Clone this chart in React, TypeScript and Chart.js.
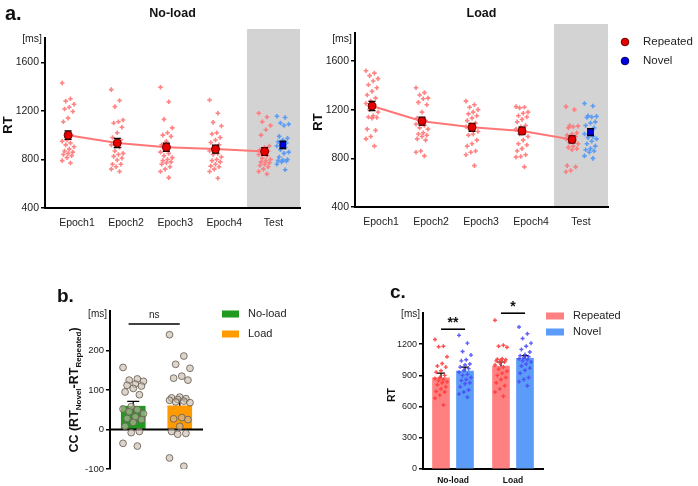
import React, { useEffect, useRef } from 'react';
import { Chart, registerables } from 'chart.js';

Chart.register(...registerables);

const FONT = "'Liberation Sans', Arial, Helvetica, sans-serif";

// ---------- a. RT across epochs ----------
const EPOCH_LABELS = ['Epoch1', 'Epoch2', 'Epoch3', 'Epoch4', 'Test'];
const EPOCH_TICK_POS = [0.18, 1.18, 2.18, 3.18, 4.18];
const RT_TICKS = [400, 800, 1200, 1600];
const NOVEL_X = 4.37;

const NOLOAD_REP_MEAN = [1000, 935, 900, 885, 865];
const NOLOAD_REP_SEM = [34, 38, 33, 32, 32];
const NOLOAD_NOV_MEAN = 920;
const NOLOAD_NOV_SEM = 30;

const NOLOAD_REP_E1 = [1430, 1300, 1280, 1255, 1230, 1215, 1195, 1140, 1110, 1000, 960, 950, 935, 920, 905, 885, 870, 860, 850, 840, 830, 815, 790, 770];
const NOLOAD_REP_E2 = [1375, 1285, 1235, 1125, 1110, 1100, 1065, 1020, 980, 960, 940, 920, 900, 870, 850, 840, 825, 810, 795, 760, 760, 740, 720, 700];
const NOLOAD_REP_E3 = [1395, 1275, 1130, 1060, 1020, 1000, 990, 950, 920, 900, 880, 860, 850, 830, 815, 800, 790, 780, 770, 760, 740, 720, 700, 650];
const NOLOAD_REP_E4 = [1290, 1180, 1105, 1075, 1020, 1010, 980, 960, 940, 920, 900, 870, 850, 840, 820, 800, 790, 780, 760, 745, 740, 720, 700, 645];
const NOLOAD_REP_TEST = [1180, 1150, 1110, 1080, 1045, 1000, 910, 900, 880, 870, 850, 840, 830, 810, 800, 790, 780, 770, 760, 750, 740, 720, 700, 680];
const NOLOAD_NOV_TEST = [1155, 1145, 1100, 1090, 1080, 990, 975, 960, 945, 935, 920, 910, 900, 880, 860, 850, 820, 800, 795, 790, 785, 780, 760, 715];

const LOAD_REP_MEAN = [1230, 1105, 1055, 1025, 955];
const LOAD_REP_SEM = [38, 32, 32, 30, 28];
const LOAD_NOV_MEAN = 1015;
const LOAD_NOV_SEM = 28;

const LOAD_REP_E1 = [1520, 1500, 1480, 1455, 1435, 1405, 1380, 1350, 1320, 1295, 1270, 1250, 1240, 1200, 1180, 1150, 1140, 1135, 1130, 1040, 1030, 980, 960, 900];
const LOAD_REP_E2 = [1380, 1340, 1320, 1295, 1290, 1260, 1240, 1180, 1130, 1110, 1100, 1080, 1070, 1050, 1040, 1010, 1000, 990, 980, 960, 950, 860, 850, 820];
const LOAD_REP_E3 = [1270, 1240, 1220, 1200, 1180, 1165, 1150, 1130, 1110, 1090, 1075, 1060, 1050, 1040, 1020, 1000, 990, 950, 920, 900, 860, 850, 830, 740];
const LOAD_REP_E4 = [1225, 1220, 1215, 1180, 1170, 1150, 1140, 1120, 1100, 1070, 1060, 1040, 1010, 1000, 980, 950, 920, 910, 880, 860, 830, 815, 810, 730];
const LOAD_REP_TEST = [1225, 1200, 1070, 1065, 1060, 1050, 1010, 1000, 990, 980, 970, 960, 940, 930, 920, 900, 890, 880, 870, 740, 730, 700, 690];
const LOAD_NOV_TEST = [1250, 1230, 1150, 1145, 1140, 1135, 1100, 1090, 1070, 1050, 1020, 1000, 980, 970, 960, 940, 920, 900, 880, 870, 860, 850, 820, 800];

// ---------- b. contextual cueing effect ----------
const CC_GROUPS = ['No-load', 'Load'];
const CC_MEAN = [59, 60];
const CC_SEM = [12, 16];
const CC_TICKS = [-100, 0, 100, 200];
const CC_BRACKET = 267;
const CC_NOLOAD = [157, 128, 125, 122, 115, 112, 110, 104, 95, 88, 58, 52, 50, 45, 40, 32, 28, 25, 18, 8, -5, -8, -35, -42];
const CC_LOAD = [240, 186, 165, 155, 135, 130, 125, 82, 80, 78, 76, 74, 72, 70, 68, 30, 27, 25, 8, -5, -10, -12, -72, -93];

// ---------- c. test-phase RT ----------
const TEST_GROUPS = ['No-load', 'Load'];
const TEST_REP_MEAN = [876, 989];
const TEST_NOV_MEAN = [941, 1063];
const TEST_REP_SEM = [45, 40];
const TEST_NOV_SEM = [38, 28];
const TEST_TICKS = [0, 300, 600, 900, 1200];
const TEST_BRACKETS = [1344, 1498];
const TEST_STARS = ['**', '*'];
const TEST_NOLOAD_REP = [1245, 1180, 1175, 1080, 1015, 990, 980, 945, 930, 900, 880, 870, 860, 850, 840, 830, 810, 790, 770, 745, 740, 710, 680, 615];
const TEST_NOLOAD_NOV = [1285, 1210, 1130, 1095, 1050, 1040, 1010, 1000, 980, 965, 950, 930, 910, 900, 880, 860, 850, 830, 820, 790, 760, 740, 720, 690];
const TEST_LOAD_REP = [1430, 1190, 1180, 1170, 1060, 1055, 1050, 1045, 1040, 1030, 1020, 1000, 980, 960, 940, 920, 900, 880, 860, 830, 800, 770, 740, 700];
const TEST_LOAD_NOV = [1365, 1300, 1255, 1210, 1180, 1150, 1125, 1100, 1090, 1080, 1070, 1060, 1050, 1040, 1030, 1010, 990, 970, 950, 920, 880, 860, 840, 800];

// spread subjects sideways so overlapping values stay visible
const jitter = (i: number, amp: number) => ((((i * 7) % 11) - 5) / 5) * amp;

function drawText(ctx: CanvasRenderingContext2D, s: string, x: number, y: number, size: number, o: { bold?: boolean; align?: CanvasTextAlign; baseline?: CanvasTextBaseline; color?: string } = {}) {
  ctx.save();
  ctx.font = `${o.bold ? 'bold ' : ''}${size}px ${FONT}`;
  ctx.fillStyle = o.color ?? '#111';
  ctx.textAlign = o.align ?? 'center';
  ctx.textBaseline = o.baseline ?? 'middle';
  ctx.fillText(s, x, y);
  ctx.restore();
}

function drawRotated(ctx: CanvasRenderingContext2D, s: string, x: number, y: number, size: number, bold = true) {
  ctx.save();
  ctx.translate(x, y);
  ctx.rotate(-Math.PI / 2);
  drawText(ctx, s, 0, 0, size, { bold });
  ctx.restore();
}

function errorBar(ctx: CanvasRenderingContext2D, x: number, yLo: number, yHi: number, cap: number, both: boolean, lw = 1.4) {
  ctx.save();
  ctx.strokeStyle = '#000';
  ctx.lineWidth = lw;
  ctx.beginPath();
  ctx.moveTo(x, yLo);
  ctx.lineTo(x, yHi);
  ctx.moveTo(x - cap / 2, yHi);
  ctx.lineTo(x + cap / 2, yHi);
  if (both) {
    ctx.moveTo(x - cap / 2, yLo);
    ctx.lineTo(x + cap / 2, yLo);
  }
  ctx.stroke();
  ctx.restore();
}

function hLine(ctx: CanvasRenderingContext2D, x1: number, x2: number, y: number, lw: number) {
  ctx.save();
  ctx.strokeStyle = '#000';
  ctx.lineWidth = lw;
  ctx.beginPath();
  ctx.moveTo(x1, y);
  ctx.lineTo(x2, y);
  ctx.stroke();
  ctx.restore();
}

function yAxis(min: number, max: number, ticks: number[], width: number, size: number) {
  return {
    type: 'linear',
    min,
    max,
    afterBuildTicks: (s: any) => { s.ticks = ticks.map((v) => ({ value: v })); },
    afterFit: (s: any) => { s.width = width; },
    border: { display: true, color: '#000', width: 2 },
    grid: { display: true, drawOnChartArea: false, drawTicks: true, tickLength: 4, color: '#000', lineWidth: 1.5 },
    ticks: { font: { family: FONT, size }, color: '#222', padding: 2, callback: (v: number) => String(v) },
  };
}

const baseOptions = (padding: { left: number; top: number; right: number; bottom: number }) => ({
  responsive: false,
  animation: false,
  devicePixelRatio: 1,
  events: [],
  layout: { padding },
  plugins: { legend: { display: false }, tooltip: { enabled: false } },
});

type EpochPanel = {
  title: string;
  repMean: number[];
  repSem: number[];
  novMean: number;
  novSem: number;
  repDots: number[][];
  novDots: number[];
  xMin: number;
  yMax: number;
  padding: { left: number; top: number; right: number; bottom: number };
  yWidth: number;
  xHeight: number;
  letter: boolean;
  legend: boolean;
};

function epochConfig(p: EpochPanel) {
  const repPts = p.repDots.flatMap((vals, g) => vals.map((v, i) => ({ x: g + jitter(i, 0.12), y: v })));
  const novPts = p.novDots.map((v, i) => ({ x: NOVEL_X + jitter(i, 0.12), y: v }));
  return {
    type: 'scatter',
    data: {
      datasets: [
        {
          data: p.repMean.map((v, i) => ({ x: i, y: v })),
          showLine: true,
          borderColor: '#ff7676',
          borderWidth: 2,
          pointRadius: 4,
          pointBackgroundColor: '#e60000',
          pointBorderColor: '#6a0000',
          pointBorderWidth: 1,
          order: 1,
        },
        {
          data: [{ x: NOVEL_X, y: p.novMean }],
          pointStyle: 'rect',
          pointRadius: 4,
          pointBackgroundColor: '#0000e6',
          pointBorderColor: '#00005a',
          pointBorderWidth: 1,
          order: 0,
        },
        {
          data: repPts,
          pointStyle: 'cross',
          pointRadius: 2.3,
          pointBorderWidth: 1.6,
          pointBorderColor: 'rgba(255,118,118,0.9)',
          pointBackgroundColor: 'rgba(255,118,118,0.9)',
          order: 2,
        },
        {
          data: novPts,
          pointStyle: 'cross',
          pointRadius: 2.3,
          pointBorderWidth: 1.6,
          pointBorderColor: 'rgba(80,150,245,0.9)',
          pointBackgroundColor: 'rgba(80,150,245,0.9)',
          order: 2,
        },
      ],
    },
    options: {
      ...baseOptions(p.padding),
      scales: {
        x: {
          type: 'linear',
          min: p.xMin,
          max: 4.72,
          offset: false,
          afterBuildTicks: (s: any) => { s.ticks = EPOCH_TICK_POS.map((v) => ({ value: v })); },
          afterFit: (s: any) => { s.height = p.xHeight; },
          border: { display: true, color: '#000', width: 2 },
          grid: { display: false, drawTicks: false },
          ticks: {
            autoSkip: false,
            maxRotation: 0,
            padding: 9,
            color: '#222',
            font: { family: FONT, size: 10.5 },
            callback: (_v: number, i: number) => EPOCH_LABELS[i],
          },
        },
        y: yAxis(400, p.yMax, RT_TICKS, p.yWidth, 10.5),
      },
    },
    plugins: [
      {
        id: 'epochDeco',
        beforeDraw(chart: any) {
          const { ctx, chartArea: a, scales } = chart;
          const x0 = scales.x.getPixelForValue(3.64);
          ctx.save();
          ctx.fillStyle = '#d3d3d3';
          ctx.fillRect(x0, a.top - 9, a.right - x0, a.bottom - a.top + 9);
          ctx.restore();
        },
        beforeDatasetDraw(chart: any, args: any) {
          if (args.index !== 0) return;
          const { ctx, scales } = chart;
          const y = scales.y;
          p.repMean.forEach((m, i) => {
            const x = scales.x.getPixelForValue(i);
            errorBar(ctx, x, y.getPixelForValue(m - p.repSem[i]), y.getPixelForValue(m + p.repSem[i]), 7, true);
          });
          const xn = scales.x.getPixelForValue(NOVEL_X);
          errorBar(ctx, xn, y.getPixelForValue(p.novMean - p.novSem), y.getPixelForValue(p.novMean + p.novSem), 7, true);
        },
        afterDraw(chart: any) {
          const { ctx, chartArea: a } = chart;
          drawText(ctx, p.title, (a.left + a.right) / 2, 14, 12.5, { bold: true });
          drawText(ctx, '[ms]', a.left - 3, 39, 10.5, { align: 'right', color: '#222' });
          drawRotated(ctx, 'RT', a.left - 37, (a.top + a.bottom) / 2 + 2, 13);
          if (p.letter) drawText(ctx, 'a.', a.left - 40, 20, 20, { bold: true, align: 'left', baseline: 'alphabetic' });
          if (p.legend) {
            const rows: [string, string, string][] = [['Repeated', '#e60000', '#6a0000'], ['Novel', '#0000e6', '#00005a']];
            rows.forEach(([label, fill, stroke], r) => {
              const cy = 42 + r * 19;
              ctx.save();
              ctx.beginPath();
              ctx.arc(a.right + 17, cy, 3.8, 0, Math.PI * 2);
              ctx.fillStyle = fill;
              ctx.fill();
              ctx.strokeStyle = stroke;
              ctx.lineWidth = 1;
              ctx.stroke();
              ctx.restore();
              drawText(ctx, label, a.right + 35, cy, 11.5, { align: 'left', color: '#222' });
            });
          }
        },
      },
    ],
  };
}

function ccConfig() {
  const dots = [CC_NOLOAD, CC_LOAD].flatMap((vals, g) => vals.map((v, i) => ({ x: g + jitter(i, 0.22), y: v })));
  return {
    type: 'bar',
    data: {
      datasets: [
        {
          data: CC_MEAN.map((m, i) => ({ x: i, y: m })),
          backgroundColor: ['#1f9a1f', '#ff9a00'],
          barThickness: 24,
          grouped: false,
          order: 2,
        },
        {
          type: 'scatter',
          data: dots,
          pointRadius: 3.4,
          pointBackgroundColor: 'rgba(198,185,168,0.6)',
          pointBorderColor: 'rgba(105,95,85,0.85)',
          pointBorderWidth: 1,
          order: 0,
        },
      ],
    },
    options: {
      ...baseOptions({ left: 0, top: 41, right: 127, bottom: 17 }),
      scales: {
        x: { type: 'linear', display: false, min: -0.5, max: 1.5, offset: false },
        y: yAxis(-100, 300, CC_TICKS, 80, 9.5),
      },
    },
    plugins: [
      {
        id: 'ccDeco',
        beforeDatasetDraw(chart: any, args: any) {
          if (args.index !== 1) return;
          const { ctx, chartArea: a, scales } = chart;
          hLine(ctx, a.left, a.right, scales.y.getPixelForValue(0), 2);
          CC_MEAN.forEach((m, i) => {
            const x = scales.x.getPixelForValue(i);
            errorBar(ctx, x, scales.y.getPixelForValue(m), scales.y.getPixelForValue(m + CC_SEM[i]), 12, false, 1.3);
          });
        },
        afterDraw(chart: any) {
          const { ctx, chartArea: a, scales } = chart;
          const yb = scales.y.getPixelForValue(CC_BRACKET);
          const x1 = scales.x.getPixelForValue(-0.1);
          const x2 = scales.x.getPixelForValue(1);
          hLine(ctx, x1, x2, yb, 1.5);
          drawText(ctx, 'ns', (x1 + x2) / 2, yb - 9, 10, { color: '#222' });
          drawText(ctx, '[ms]', a.left - 3, a.top + 3, 10, { align: 'right', color: '#222' });
          drawText(ctx, 'b.', a.left - 53, a.top - 9, 19, { bold: true, align: 'left', baseline: 'alphabetic' });
          // y title with subscripts
          const parts: [string, number, boolean][] = [['CC (RT', 12.5, false], ['Novel', 8, true], ['-RT', 12.5, false], ['Repeated', 8, true], [')', 12.5, false]];
          ctx.save();
          ctx.translate(a.left - 37, (a.top + a.bottom) / 2);
          ctx.rotate(-Math.PI / 2);
          ctx.fillStyle = '#111';
          ctx.textAlign = 'left';
          ctx.textBaseline = 'alphabetic';
          const widths = parts.map(([t, s]) => { ctx.font = `bold ${s}px ${FONT}`; return ctx.measureText(t).width; });
          let tx = -widths.reduce((u, w) => u + w, 0) / 2;
          parts.forEach(([t, s, sub], i) => {
            ctx.font = `bold ${s}px ${FONT}`;
            ctx.fillText(t, tx, sub ? 7.5 : 4.5);
            tx += widths[i];
          });
          ctx.restore();
          const rows: [string, string][] = [['No-load', '#1f9a1f'], ['Load', '#ff9a00']];
          rows.forEach(([label, col], r) => {
            const cy = a.top + 3 + r * 20;
            ctx.save();
            ctx.fillStyle = col;
            ctx.fillRect(a.right + 19, cy - 3.5, 17, 7);
            ctx.restore();
            drawText(ctx, label, a.right + 45, cy, 11, { align: 'left', color: '#222' });
          });
        },
      },
    ],
  };
}

function testConfig() {
  const repDots = [TEST_NOLOAD_REP, TEST_LOAD_REP].flatMap((vals, g) => vals.map((v, i) => ({ x: g - 0.2 + jitter(i, 0.1), y: v })));
  const novDots = [TEST_NOLOAD_NOV, TEST_LOAD_NOV].flatMap((vals, g) => vals.map((v, i) => ({ x: g + 0.2 + jitter(i, 0.1), y: v })));
  return {
    type: 'bar',
    data: {
      datasets: [
        { data: TEST_REP_MEAN.map((m, i) => ({ x: i - 0.2, y: m })), backgroundColor: '#ff8080', barThickness: 17, grouped: false, order: 2 },
        { data: TEST_NOV_MEAN.map((m, i) => ({ x: i + 0.2, y: m })), backgroundColor: '#5a9cf8', barThickness: 17, grouped: false, order: 2 },
        {
          type: 'scatter', data: repDots, pointStyle: 'cross', pointRadius: 2, pointBorderWidth: 1.4,
          pointBorderColor: 'rgba(255,60,60,0.9)', pointBackgroundColor: 'rgba(255,60,60,0.9)', order: 1,
        },
        {
          type: 'scatter', data: novDots, pointStyle: 'cross', pointRadius: 2, pointBorderWidth: 1.4,
          pointBorderColor: 'rgba(75,75,250,0.9)', pointBackgroundColor: 'rgba(75,75,250,0.9)', order: 0,
        },
      ],
    },
    options: {
      ...baseOptions({ left: 0, top: 43, right: 155, bottom: 0 }),
      scales: {
        x: {
          type: 'linear',
          min: -0.5,
          max: 1.5,
          offset: false,
          afterBuildTicks: (s: any) => { s.ticks = TEST_GROUPS.map((_g, i) => ({ value: i })); },
          afterFit: (s: any) => { s.height = 17; },
          border: { display: true, color: '#000', width: 2 },
          grid: { display: false, drawTicks: false },
          ticks: {
            autoSkip: false,
            maxRotation: 0,
            padding: 7,
            color: '#111',
            font: { family: FONT, size: 8.5, weight: 'bold' },
            callback: (_v: number, i: number) => TEST_GROUPS[i],
          },
        },
        y: yAxis(0, 1500, TEST_TICKS, 63, 9),
      },
    },
    plugins: [
      {
        id: 'testDeco',
        beforeDatasetDraw(chart: any, args: any) {
          if (args.index !== 2) return;
          const { ctx, scales } = chart;
          TEST_GROUPS.forEach((_g, i) => {
            const xr = scales.x.getPixelForValue(i - 0.2);
            const xn = scales.x.getPixelForValue(i + 0.2);
            errorBar(ctx, xr, scales.y.getPixelForValue(TEST_REP_MEAN[i]), scales.y.getPixelForValue(TEST_REP_MEAN[i] + TEST_REP_SEM[i]), 8, false, 1.2);
            errorBar(ctx, xn, scales.y.getPixelForValue(TEST_NOV_MEAN[i]), scales.y.getPixelForValue(TEST_NOV_MEAN[i] + TEST_NOV_SEM[i]), 8, false, 1.2);
          });
        },
        afterDraw(chart: any) {
          const { ctx, chartArea: a, scales } = chart;
          TEST_BRACKETS.forEach((v, i) => {
            const yb = scales.y.getPixelForValue(v);
            const x1 = scales.x.getPixelForValue(i - 0.2);
            const x2 = scales.x.getPixelForValue(i + 0.2);
            hLine(ctx, x1, x2, yb, 1.6);
            drawText(ctx, TEST_STARS[i], (x1 + x2) / 2, yb - 6, 14, { bold: true });
          });
          drawText(ctx, '[ms]', a.left - 3, a.top + 1, 10, { align: 'right', color: '#222' });
          drawRotated(ctx, 'RT', a.left - 31, (a.top + a.bottom) / 2 + 4, 10.5);
          drawText(ctx, 'c.', a.left - 33, a.top - 15, 19, { bold: true, align: 'left', baseline: 'alphabetic' });
          const rows: [string, string][] = [['Repeated', '#ff8080'], ['Novel', '#5a9cf8']];
          rows.forEach(([label, col], r) => {
            const cy = a.top + 3 + r * 16;
            ctx.save();
            ctx.fillStyle = col;
            ctx.fillRect(a.right + 3, cy - 3.5, 18, 7);
            ctx.restore();
            drawText(ctx, label, a.right + 30, cy, 11, { align: 'left', color: '#222' });
          });
        },
      },
    ],
  };
}

function ChartCanvas({ left, top, width, height, build }: { left: number; top: number; width: number; height: number; build: () => any }) {
  const ref = useRef<HTMLCanvasElement>(null);
  useEffect(() => {
    const chart = new Chart(ref.current as HTMLCanvasElement, build());
    return () => chart.destroy();
  }, []);
  return (
    <canvas
      ref={ref}
      width={width}
      height={height}
      style={{ position: 'absolute', left, top, width, height }}
    />
  );
}

export default function App() {
  return (
    <div style={{ position: 'fixed', left: 0, top: 0, width: 698, height: 486, background: '#fff', overflow: 'hidden' }}>
      <ChartCanvas
        left={0}
        top={0}
        width={330}
        height={240}
        build={() =>
          epochConfig({
            title: 'No-load',
            repMean: NOLOAD_REP_MEAN,
            repSem: NOLOAD_REP_SEM,
            novMean: NOLOAD_NOV_MEAN,
            novSem: NOLOAD_NOV_SEM,
            repDots: [NOLOAD_REP_E1, NOLOAD_REP_E2, NOLOAD_REP_E3, NOLOAD_REP_E4, NOLOAD_REP_TEST],
            novDots: NOLOAD_NOV_TEST,
            xMin: -0.47,
            yMax: 1800,
            padding: { left: 0, top: 38, right: 30, bottom: 0 },
            yWidth: 45,
            xHeight: 32,
            letter: true,
            legend: false,
          })
        }
      />
      <ChartCanvas
        left={300}
        top={0}
        width={398}
        height={240}
        build={() =>
          epochConfig({
            title: 'Load',
            repMean: LOAD_REP_MEAN,
            repSem: LOAD_REP_SEM,
            novMean: LOAD_NOV_MEAN,
            novSem: LOAD_NOV_SEM,
            repDots: [LOAD_REP_E1, LOAD_REP_E2, LOAD_REP_E3, LOAD_REP_E4, LOAD_REP_TEST],
            novDots: LOAD_NOV_TEST,
            xMin: -0.34,
            yMax: 1830,
            padding: { left: 0, top: 33, right: 90, bottom: 0 },
            yWidth: 55,
            xHeight: 33,
            letter: false,
            legend: true,
          })
        }
      />
      <ChartCanvas left={30} top={270} width={300} height={216} build={ccConfig} />
      <ChartCanvas left={360} top={270} width={338} height={216} build={testConfig} />
    </div>
  );
}
